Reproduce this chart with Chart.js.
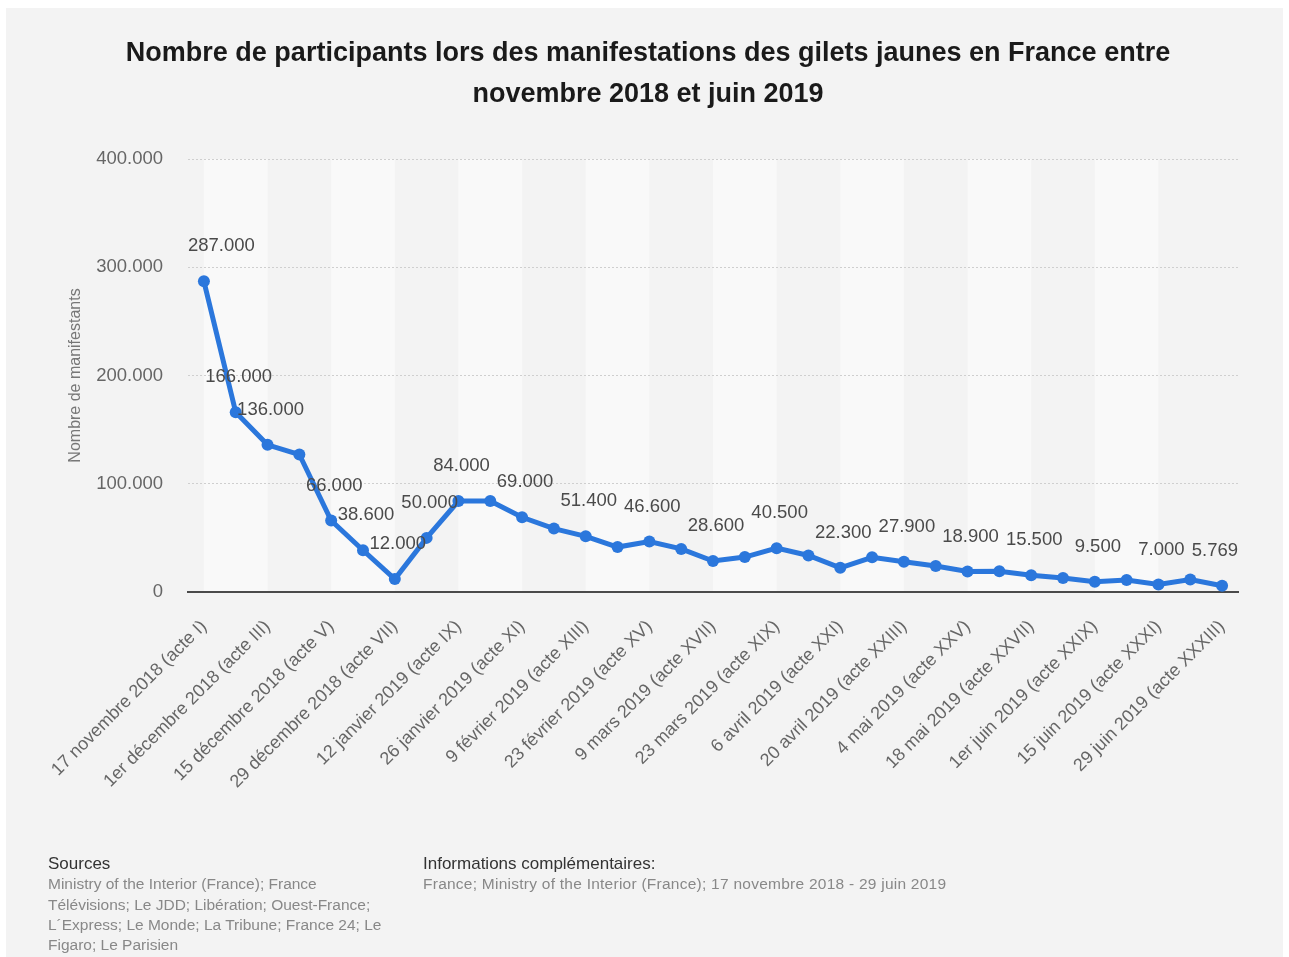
<!DOCTYPE html>
<html lang="fr">
<head>
<meta charset="utf-8">
<title>Gilets jaunes</title>
<script src="https://cdn.jsdelivr.net/npm/chart.js@4.4.1/dist/chart.umd.min.js"></script>
<style>
  html, body { margin: 0; padding: 0; background: #ffffff; }
  body { width: 1289px; height: 957px; position: relative; overflow: hidden; font-family: "Liberation Sans", Arial, Helvetica, sans-serif; }
  #panel { position: absolute; left: 6px; top: 8px; width: 1277px; height: 949px; background: #f3f3f3; }
  #chart { position: absolute; left: 0; top: 0; }
  #title { position: absolute; left: 0; width: 1296px; top: 32px; text-align: center; font-weight: bold; font-size: 27px; line-height: 41px; color: #1a1a1a; }
  .foot { position: absolute; top: 854px; font-size: 15.5px; line-height: 20.3px; color: #888; }
  .foot b { font-weight: normal; color: #333; font-size: 17px; }
</style>
</head>
<body>
<div id="panel"></div>
<canvas id="chart" width="1289" height="957"></canvas>
<div id="title">Nombre de participants lors des manifestations des gilets jaunes en France entre<br>novembre 2018 et juin 2019</div>
<div class="foot" style="left:48px"><b>Sources</b><br>Ministry of the Interior (France); France<br>Télévisions; Le JDD; Libération; Ouest-France;<br>L´Express; Le Monde; La Tribune; France 24; Le<br>Figaro; Le Parisien</div>
<div class="foot" style="left:423px"><b>Informations complémentaires:</b><br><span style="letter-spacing:0.25px">France; Ministry of the Interior (France); 17 novembre 2018 - 29 juin 2019</span></div>
<script>
// categories (one per acte)
const dates = [
  '17 novembre 2018 (acte I)', '24 novembre 2018 (acte II)', '1er décembre 2018 (acte III)', '8 décembre 2018 (acte IV)',
  '15 décembre 2018 (acte V)', '22 décembre 2018 (acte VI)', '29 décembre 2018 (acte VII)', '5 janvier 2019 (acte VIII)',
  '12 janvier 2019 (acte IX)', '19 janvier 2019 (acte X)', '26 janvier 2019 (acte XI)', '2 février 2019 (acte XII)',
  '9 février 2019 (acte XIII)', '16 février 2019 (acte XIV)', '23 février 2019 (acte XV)', '2 mars 2019 (acte XVI)',
  '9 mars 2019 (acte XVII)', '16 mars 2019 (acte XVIII)', '23 mars 2019 (acte XIX)', '30 mars 2019 (acte XX)',
  '6 avril 2019 (acte XXI)', '13 avril 2019 (acte XXII)', '20 avril 2019 (acte XXIII)', '27 avril 2019 (acte XXIV)',
  '4 mai 2019 (acte XXV)', '11 mai 2019 (acte XXVI)', '18 mai 2019 (acte XXVII)', '25 mai 2019 (acte XXVIII)',
  '1er juin 2019 (acte XXIX)', '8 juin 2019 (acte XXX)', '15 juin 2019 (acte XXXI)', '22 juin 2019 (acte XXXII)',
  '29 juin 2019 (acte XXXIII)'
];

// number of demonstrators
const participants = [
  287000, 166000, 136000, 127000, 66000, 38600, 12000, 50000,
  84000, 84000, 69000, 58600, 51400, 41500, 46600, 39800,
  28600, 32300, 40500, 33700, 22300, 32000, 27900, 24000,
  18900, 19200, 15500, 13000, 9500, 11000, 7000, 11500,
  5769
];

// points that carry a value label in the picture
const labelledPoints = [0, 1, 2, 4, 5, 6, 7, 8, 10, 12, 14, 16, 18, 20, 22, 24, 26, 28, 30, 32];

const yTicks = [0, 100000, 200000, 300000, 400000];

const blue = '#2b77dc';
const fontFamily = '"Liberation Sans", Arial, Helvetica, sans-serif';

function fmt(n) {
  return String(n).replace(/\B(?=(\d{3})+(?!\d))/g, '.');
}

// alternating column shading, two categories wide
const bandsPlugin = {
  id: 'bands',
  beforeDraw(chart) {
    const { ctx, chartArea } = chart;
    const x = chart.scales.x;
    ctx.save();
    ctx.fillStyle = '#f9f9f9';
    for (let i = 0; i + 2 < dates.length; i += 4) {
      const a = x.getPixelForValue(i);
      const b = x.getPixelForValue(i + 2);
      ctx.fillRect(a, chartArea.top, b - a, chartArea.bottom - chartArea.top);
    }
    ctx.restore();
  }
};

// value labels above the points
const valueLabels = {
  id: 'valueLabels',
  afterDatasetsDraw(chart) {
    const { ctx, chartArea } = chart;
    const meta = chart.getDatasetMeta(0);
    ctx.save();
    ctx.font = '18.5px ' + fontFamily;
    ctx.fillStyle = '#4a4a4a';
    ctx.textAlign = 'center';
    ctx.textBaseline = 'middle';
    labelledPoints.forEach(i => {
      const pt = meta.data[i];
      const txt = fmt(participants[i]);
      const w = ctx.measureText(txt).width;
      let x = pt.x + 3;
      if (x - w / 2 < chartArea.left) x = chartArea.left + w / 2;
      if (x + w / 2 > chartArea.right) x = chartArea.right - w / 2;
      ctx.fillText(txt, x, pt.y - 35);
    });
    ctx.restore();
  }
};

new Chart(document.getElementById('chart'), {
  type: 'line',
  data: {
    labels: dates,
    datasets: [{
      data: participants,
      borderColor: blue,
      backgroundColor: blue,
      borderWidth: 5,
      pointRadius: 6,
      pointBorderWidth: 0,
      pointBackgroundColor: blue,
      tension: 0
    }]
  },
  options: {
    responsive: false,
    animation: false,
    layout: { padding: { left: 66, right: 51, top: 159, bottom: 0 } },
    plugins: { legend: { display: false }, tooltip: { enabled: false }, title: { display: false } },
    scales: {
      x: {
        offset: true,
        grid: { display: false, drawTicks: false },
        border: { display: true, color: '#4a4a4a', width: 2 },
        ticks: {
          autoSkip: false,
          minRotation: 45,
          maxRotation: 45,
          padding: 24,
          color: '#666',
          font: { family: fontFamily, size: 18 },
          callback: function (val, i) { return i % 2 === 0 ? this.getLabelForValue(val) : ''; }
        },
        afterFit: s => { s.height = 365; }
      },
      y: {
        min: 0,
        max: 400000,
        afterBuildTicks: s => { s.ticks = yTicks.map(v => ({ value: v })); },
        grid: { color: '#cfcfcf', lineWidth: 1, drawTicks: false },
        border: { display: false, dash: [2, 2] },
        ticks: {
          padding: 25,
          color: '#666',
          font: { family: fontFamily, size: 18.5 },
          callback: v => fmt(v)
        },
        title: {
          display: true,
          text: 'Nombre de manifestants',
          color: '#777',
          font: { family: fontFamily, size: 16 },
          padding: 0
        },
        afterFit: s => { s.width = 122; }
      }
    }
  },
  plugins: [bandsPlugin, valueLabels]
});
</script>
</body>
</html>
